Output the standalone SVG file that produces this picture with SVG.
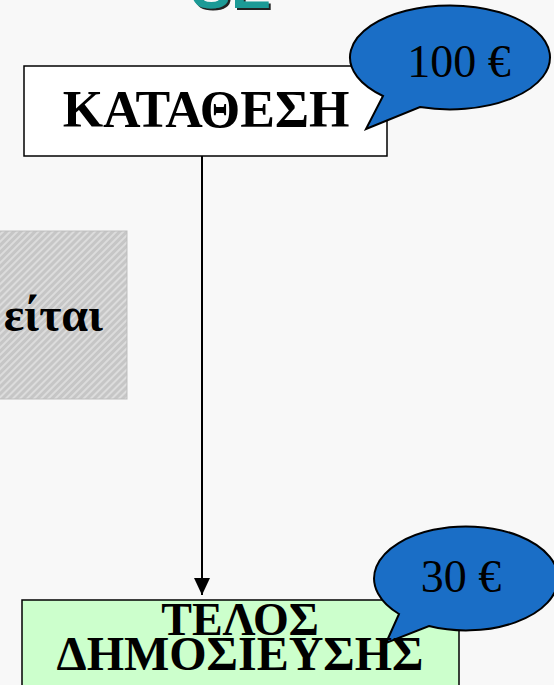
<svg xmlns="http://www.w3.org/2000/svg" width="554" height="685" viewBox="0 0 554 685">
<defs>
<pattern id="hatch" width="5" height="5" patternUnits="userSpaceOnUse" patternTransform="rotate(45)">
<rect width="5" height="5" fill="#c6c6c6"/>
<rect width="2" height="5" fill="#dcdcdc"/>
</pattern>
<marker id="arr" markerWidth="17" markerHeight="16" refX="17" refY="8" orient="auto" markerUnits="userSpaceOnUse" viewBox="0 0 17 16">
<path d="M0 0 L17 8 L0 16 Z" fill="#000"/>
</marker>
<filter id="shadow" x="-10%" y="-10%" width="130%" height="130%">
<feDropShadow dx="2" dy="2" stdDeviation="0.6" flood-color="#222"/>
</filter>
<style>
.box{stroke:#000;stroke-width:1.5}
.bub{fill:#1a6ec6;stroke:#000;stroke-width:2}
.big{font-family:"Liberation Serif","Times New Roman",serif;font-weight:bold;fill:#000;text-anchor:middle}
.amt{font-family:"Liberation Serif","Times New Roman",serif;font-size:46px;fill:#000;text-anchor:middle}
</style>
</defs>
<rect width="554" height="685" fill="#f8f8f8"/>
<g id="title">
<text x="191" y="8" font-family="Liberation Sans, Arial, sans-serif" font-weight="bold" font-size="60" fill="#1a9a96" filter="url(#shadow)">SE</text>
</g>
<g id="side">
<rect x="-2" y="231" width="129" height="168" fill="url(#hatch)" stroke="#bdbdbd" stroke-width="1"/>
<text x="103" y="331" class="big" font-size="48" style="text-anchor:end">είται</text>
</g>
<g id="connectors">
<line x1="202" y1="156" x2="202" y2="595" stroke="#000" stroke-width="2" marker-end="url(#arr)"/>
</g>
<g id="katathesi">
<rect x="24" y="66" width="363" height="90" fill="#fff" class="box"/>
<text x="206" y="127" class="big" font-size="52">ΚΑΤΑΘΕΣΗ</text>
</g>
<g id="bubble100">
<path d="M383 96 L366 129 L420 107 A100 52 0 1 0 383 96 Z" class="bub"/>
<text x="459" y="77" class="amt">100 €</text>
</g>
<g id="telos">
<rect x="22" y="600" width="437" height="100" fill="#ccffcc" class="box"/>
<g id="bubble30">
<path d="M399 614 L386 643 L429 626 A92 52 0 1 0 399 614 Z" class="bub"/>
<text x="461" y="592" class="amt">30 €</text>
</g>
<text x="240" y="635" class="big" font-size="46">ΤΕΛΟΣ</text>
<text x="240" y="670" class="big" font-size="48">ΔΗΜΟΣΙΕΥΣΗΣ</text>
</g>
</svg>
